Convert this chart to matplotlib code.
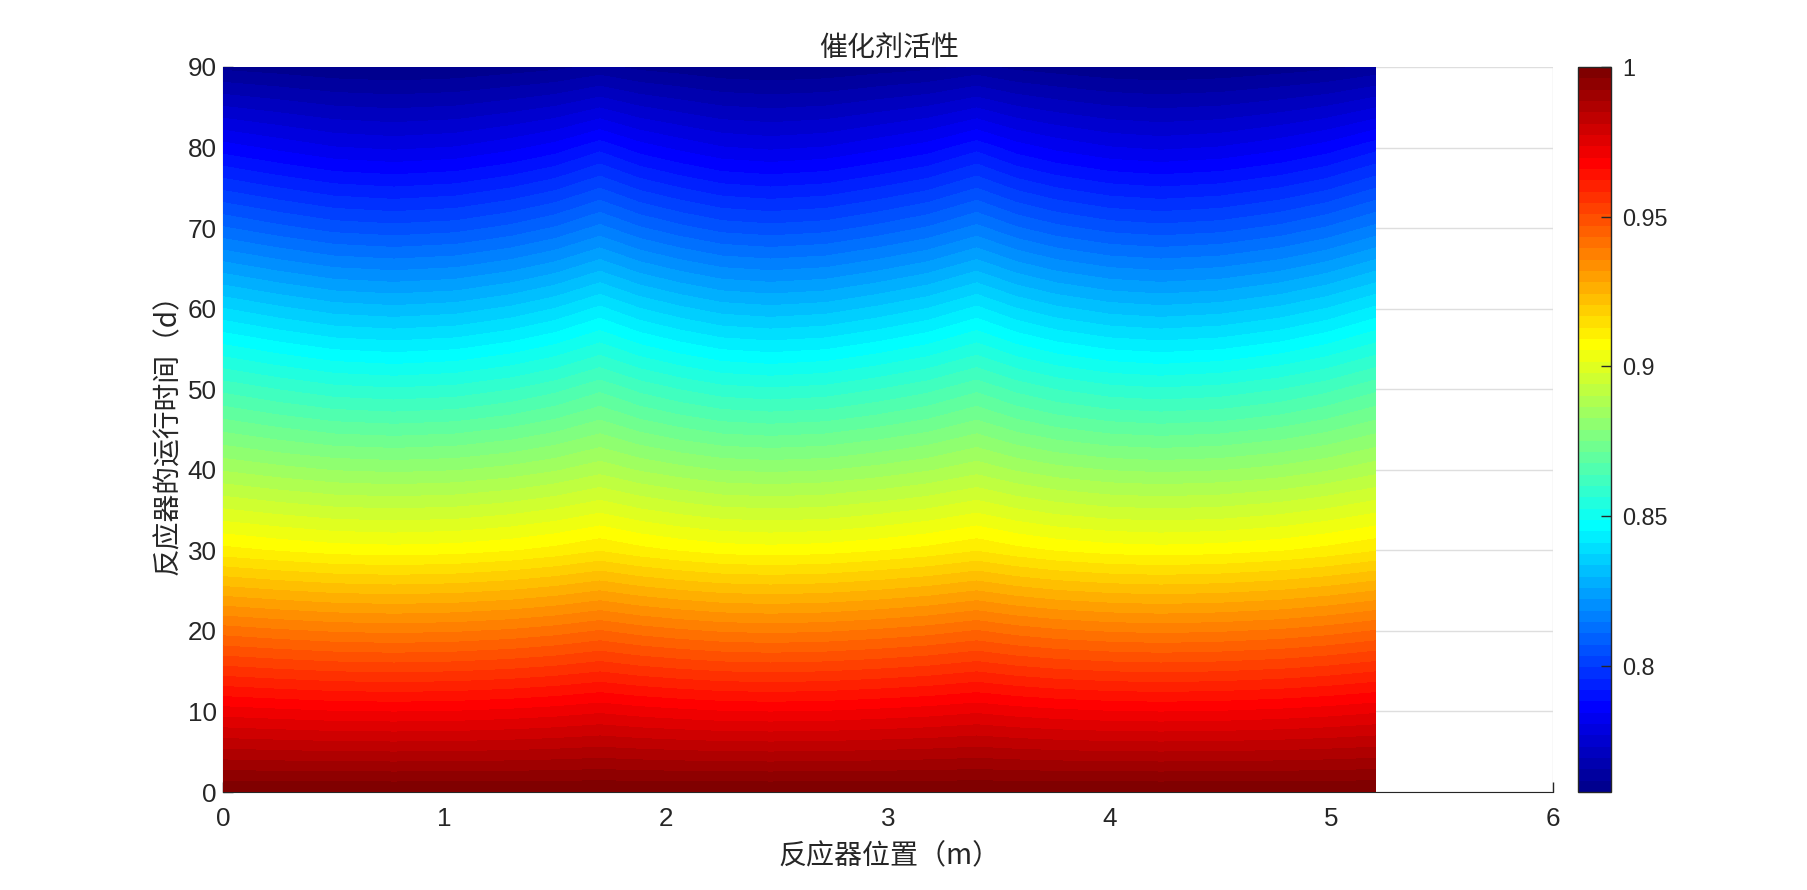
import numpy as np
import matplotlib
matplotlib.use("Agg")
import matplotlib.pyplot as plt
from matplotlib.colors import ListedColormap

plt.rcParams['font.family'] = ['Liberation Sans', 'Noto Sans CJK SC', 'DejaVu Sans']

# values
position = [0, 0.25, 0.5, 0.77, 1.05, 1.3, 1.5, 1.7,
            1.88, 2.06, 2.25, 2.47, 2.72, 2.95, 3.18, 3.4,
            3.58, 3.76, 4.0, 4.23, 4.5, 4.77, 4.98, 5.2]
days = [0, 10, 20, 30, 40, 50, 60, 70, 80, 90]
# one bay of the reactor, the three bays look the same
bay = [
    [1.0, 1.0, 1.0, 1.0, 1.0, 1.0, 1.0, 1.0],
    [.9715, .9706, .9698, .9695, .9698, .9706, .9715, .9728],
    [.9414, .9400, .9389, .9384, .9389, .9400, .9414, .9434],
    [.9104, .9088, .9075, .9070, .9075, .9088, .9104, .9126],
    [.8860, .8840, .8824, .8818, .8824, .8840, .8860, .8888],
    [.8626, .8598, .8575, .8566, .8575, .8598, .8626, .8666],
    [.8374, .8343, .8317, .8307, .8317, .8343, .8374, .8419],
    [.8112, .8081, .8055, .8045, .8055, .8081, .8112, .8157],
    [.7860, .7832, .7807, .7797, .7807, .7832, .7860, .7905],
    [.7605, .7595, .7583, .7578, .7583, .7595, .7605, .7625],
]
activity = [row * 3 for row in bay]
color_min = 0.7578
color_max = 1.0
xticks = [0, 1, 2, 3, 4, 5, 6]
yticks = [0, 10, 20, 30, 40, 50, 60, 70, 80, 90]
cticks = [0.8, 0.85, 0.9, 0.95, 1]

W, H = 1807, 890
ink = '#262626'
cjk = ['Noto Sans CJK SC', 'Liberation Sans', 'DejaVu Sans']

fig = plt.figure(figsize=(W / 100, H / 100), dpi=100)
ax = fig.add_axes([223 / W, (H - 792) / H, 1330 / W, 725 / H])
cax = fig.add_axes([1578 / W, (H - 792) / H, 33 / W, 725 / H])

# matlab style jet, 64 colours
u = np.arange(1, 65) / 64
jet64 = ListedColormap(np.clip(np.column_stack((1.5 - np.abs(4 * u - 3),
                                                1.5 - np.abs(4 * u - 2),
                                                1.5 - np.abs(4 * u - 1))), 0, 1))
levels = np.linspace(color_min, color_max, 65)
cs = ax.contourf(position, days, activity, levels=levels, cmap=jet64,
                 vmin=color_min, vmax=color_max, zorder=3)

ax.set_xlim(0, 6)
ax.set_ylim(0, 90)
ax.set_xticks(xticks)
ax.set_yticks(yticks)
ax.tick_params(direction='in', length=7, width=1, color=ink, labelcolor=ink,
               labelsize=18.7)
ax.tick_params(axis='x', pad=10.5)
ax.tick_params(axis='y', pad=4.5)
ax.grid(True, color='#dedede', linewidth=1)
ax.set_axisbelow(True)
for name in ['top', 'right']:
    ax.spines[name].set_visible(False)
for name in ['left', 'bottom']:
    ax.spines[name].set_color(ink)

fig.text(889 / W, 1 - 48 / H, '催化剂活性', family=cjk, fontsize=20.2, color=ink,
         ha='center', va='center')
fig.text(890 / W, 1 - 855 / H, '反应器位置（m）', family=cjk, fontsize=20.2, color=ink,
         ha='center', va='center')
fig.text(168 / W, 1 - 428 / H, '反应器的运行时间（d）', family=cjk, fontsize=20, color=ink,
         ha='center', va='center', rotation=90)

cb = fig.colorbar(cs, cax=cax, ticks=cticks)
cb.ax.set_yticklabels(['%g' % v for v in cticks])
cb.ax.tick_params(direction='in', length=7, width=1, color=ink, labelcolor=ink,
                  labelsize=16.8, pad=8)
cb.ax.minorticks_off()
cb.outline.set_edgecolor(ink)
cb.outline.set_linewidth(1)

fig.savefig('out.png', dpi=100)
